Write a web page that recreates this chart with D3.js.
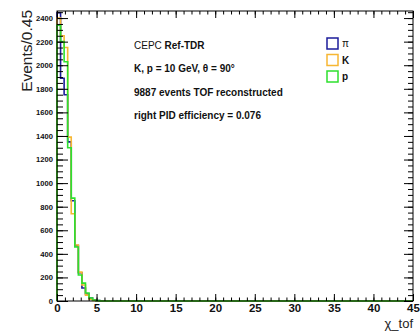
<!DOCTYPE html>
<html><head><meta charset="utf-8">
<script src="https://cdn.jsdelivr.net/npm/d3@7"></script>
<style>body{margin:0;background:#fff}svg{display:block}</style>
</head><body>
<svg id="c" width="420" height="333"></svg>
<script>
// ---- data ----
const binWidth = 0.45;          // x units per bin
const xRange = [0, 45];
const yRange = [0, 2460];
// bin contents from x = 0 upward (remaining bins up to 45 are empty)
const piCounts = [2445, 1890, 1750, 1350, 850, 470, 240, 110, 60, 25, 10, 3, 0];
const kCounts  = [2400, 2250, 2150, 1390, 740, 475, 245, 136, 50, 15, 5, 2, 0];
const pCounts  = [2340, 2200, 2030, 1300, 873, 458, 220, 152, 68, 25, 8, 3, 0];
const seriesNames = ["\u03c0", "K", "p"];
const seriesColors = ["#1c1c9a", "#f7b733", "#2ee02e"];
const xTickLabels = [0, 5, 10, 15, 20, 25, 30, 35, 40, 45];
const yTickLabels = [0, 200, 400, 600, 800, 1000, 1200, 1400, 1600, 1800, 2000, 2200, 2400];
const infoLines = ["CEPC", "K, p = 10 GeV,  \u03b8 = 90\u00b0", "9887 events TOF reconstructed", "right PID efficiency = 0.076"];

// ---- layout ----
const L = 57, R = 413, T = 11, B = 301;
const svg = d3.select("#c");
const x = d3.scaleLinear().domain(xRange).range([L, R]);
const y = d3.scaleLinear().domain(yRange).range([B, T]);
const font = "'Liberation Sans', Arial, Helvetica, sans-serif";

// histograms
function stepPath(counts) {
  const pts = [[0, 0]];
  counts.forEach((c, i) => { pts.push([i * binWidth, c]); pts.push([(i + 1) * binWidth, c]); });
  pts.push([xRange[1], 0]);
  return d3.line().x(d => x(d[0])).y(d => y(d[1]))(pts);
}
const allCounts = [piCounts, kCounts, pCounts];
allCounts.forEach((c, i) => {
  svg.append("path").attr("d", stepPath(c)).attr("fill", "none")
    .attr("stroke", seriesColors[i]).attr("stroke-width", 1.6);
});

// frame
svg.append("rect").attr("x", L).attr("y", T).attr("width", R - L).attr("height", B - T)
  .attr("fill", "none").attr("stroke", "#000").attr("stroke-width", 1);

// axes (ROOT style, ticks inward)
const xMinor = d3.range(0, 46, 1);
const yMinor = d3.range(0, 2451, 50);
const gx = svg.append("g");
gx.append("g").attr("transform", `translate(0,${B})`)
  .call(d3.axisBottom(x).tickValues(xMinor).tickSize(-3.5).tickFormat(""));
gx.append("g").attr("transform", `translate(0,${B})`)
  .call(d3.axisBottom(x).tickValues(xTickLabels).tickSize(-7).tickPadding(3).tickFormat(d3.format("d")));
gx.append("g").attr("transform", `translate(0,${T})`)
  .call(d3.axisTop(x).tickValues(xMinor).tickSize(-3.5).tickFormat(""));
gx.append("g").attr("transform", `translate(0,${T})`)
  .call(d3.axisTop(x).tickValues(xTickLabels).tickSize(-7).tickFormat(""));
const gy = svg.append("g");
gy.append("g").attr("transform", `translate(${L},0)`)
  .call(d3.axisLeft(y).tickValues(yMinor).tickSize(-6).tickFormat(""));
gy.append("g").attr("transform", `translate(${L},0)`)
  .call(d3.axisLeft(y).tickValues(yTickLabels).tickSize(-11).tickPadding(4).tickFormat(d3.format("d")));
gy.append("g").attr("transform", `translate(${R},0)`)
  .call(d3.axisRight(y).tickValues(yMinor).tickSize(-5).tickFormat(""));
gy.append("g").attr("transform", `translate(${R},0)`)
  .call(d3.axisRight(y).tickValues(yTickLabels).tickSize(-9).tickFormat(""));
svg.selectAll(".domain").remove();
svg.selectAll(".tick line").attr("stroke", "#000").attr("stroke-width", 1);
gx.selectAll(".tick text").attr("font-family", font).attr("font-size", 11.5).attr("font-weight", "bold").attr("fill", "#111");
gy.selectAll(".tick text").attr("font-family", font).attr("font-size", 7.6).attr("font-weight", "bold").attr("fill", "#111");

// axis titles
svg.append("text").attr("transform", "translate(32,10) rotate(-90)").attr("text-anchor", "end")
  .attr("font-family", font).attr("font-size", 15.5).attr("fill", "#222").text("Events/0.45");
svg.append("text").attr("x", 413).attr("y", 328).attr("text-anchor", "end")
  .attr("font-family", font).attr("font-size", 13).attr("fill", "#222").text("\u03c7_tof");

// info text
const info = svg.append("g").attr("font-family", font).attr("font-size", 10).attr("fill", "#111");
const t0 = info.append("text").attr("x", 134).attr("y", 49);
t0.append("tspan").text(infoLines[0] + " ");
t0.append("tspan").attr("font-weight", "bold").text("Ref-TDR");
infoLines.slice(1).forEach((s, i) => {
  info.append("text").attr("x", 134).attr("y", 72 + i * 23.5).attr("font-weight", "bold").text(s);
});

// legend
const leg = svg.append("g").attr("font-family", font).attr("font-size", 10).attr("font-weight", "bold");
seriesNames.forEach((n, i) => {
  const yy = 38 + i * 16.5;
  leg.append("rect").attr("x", 327).attr("y", yy).attr("width", 11).attr("height", 11)
    .attr("fill", "#fff").attr("stroke", seriesColors[i]).attr("stroke-width", 1.5);
  leg.append("text").attr("x", 342).attr("y", yy + 9).attr("fill", "#111")
    .attr("font-weight", i === 0 ? "normal" : "bold").text(n);
});
</script>
</body></html>
